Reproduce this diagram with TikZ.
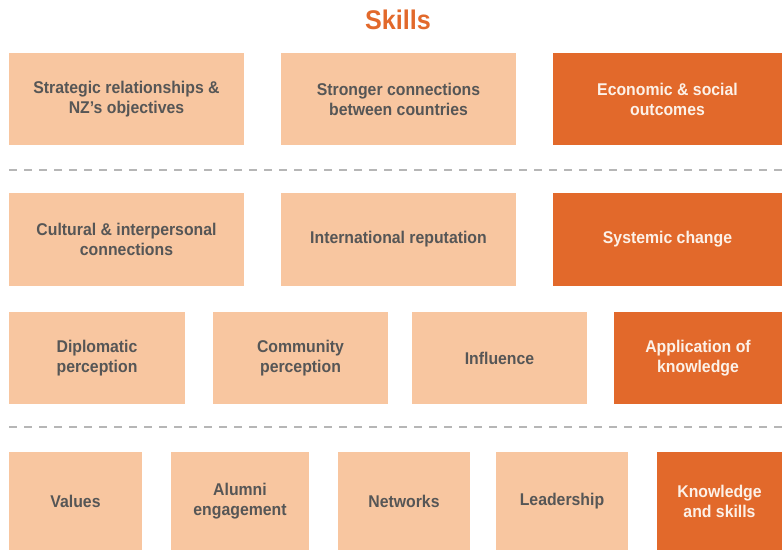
\documentclass[tikz,border=0pt]{standalone}
\usepackage{fontspec}
\setmainfont{Liberation Sans}[FakeStretch=0.93]
\usetikzlibrary{positioning}
\definecolor{Peach}{HTML}{F8C6A0}
\definecolor{Rust}{HTML}{E2692B}
\definecolor{Slate}{HTML}{565656}
\definecolor{Cream}{HTML}{FCF1E8}
\definecolor{RuleGrey}{HTML}{B6B6B6}

\begin{document}
\begin{tikzpicture}[x=1pt,y=-1pt,every node/.style={rectangle,inner sep=0pt,align=center,
  font=\bfseries\fontsize{17}{20}\selectfont},
  lightbox/.style={fill=Peach,text=Slate},darkbox/.style={fill=Rust,text=Cream},
  rule/.style={draw=RuleGrey,line width=1.2pt,dash pattern=on 8pt off 7pt}]
  \useasboundingbox (0,0) rectangle (782,550);
  \node[text=Rust,font=\bfseries\fontsize{27}{30}\selectfont] (title) at (398,20) {Skills};
  % outcomes
  \node[lightbox,minimum width=235pt,minimum height=92pt] (strat) at (126.5,99) {Strategic relationships \&\\NZ’s objectives};
  \node[lightbox,minimum width=235pt,minimum height=92pt] (stronger) at (398.5,99) {Stronger connections\\between countries};
  \node[darkbox,minimum width=229pt,minimum height=92pt] (econ) at (667.5,99) {Economic \& social\\outcomes};
  \coordinate (r1a) at (9,170);
  \coordinate (r1b) at (782,170);
  \draw[rule] (r1a) -- (r1b);
  \node[lightbox,minimum width=235pt,minimum height=93pt] (cult) at (126.5,239.5) {Cultural \& interpersonal\\connections};
  \node[lightbox,minimum width=235pt,minimum height=93pt] (intl) at (398.5,239.5) {International reputation};
  \node[darkbox,minimum width=229pt,minimum height=93pt] (sys) at (667.5,239.5) {Systemic change};
  \node[lightbox,minimum width=176pt,minimum height=92pt] (dipl) at (97,358) {Diplomatic\\perception};
  \node[lightbox,minimum width=175pt,minimum height=92pt] (comm) at (300.5,358) {Community\\perception};
  \node[lightbox,minimum width=175pt,minimum height=92pt] (infl) at (499.5,358) {Influence};
  \node[darkbox,minimum width=168pt,minimum height=92pt] (appl) at (698,358) {Application of\\knowledge};
  \coordinate (r2a) at (9,427);
  \coordinate (r2b) at (782,427);
  \draw[rule] (r2a) -- (r2b);
  % outputs
  \node[lightbox,minimum width=133pt,minimum height=98pt] (vals) at (75.5,501) {Values};
  \node[lightbox,minimum width=138pt,minimum height=98pt] (alum) at (240,501) {Alumni\\engagement};
  \node[lightbox,minimum width=132pt,minimum height=98pt] (netw) at (404,501) {Networks};
  \node[lightbox,minimum width=132pt,minimum height=98pt] (lead) at (562,501) {Leadership};
  \node[darkbox,minimum width=125pt,minimum height=98pt] (know) at (719.5,501) {Knowledge\\and skills};
\end{tikzpicture}
\end{document}
